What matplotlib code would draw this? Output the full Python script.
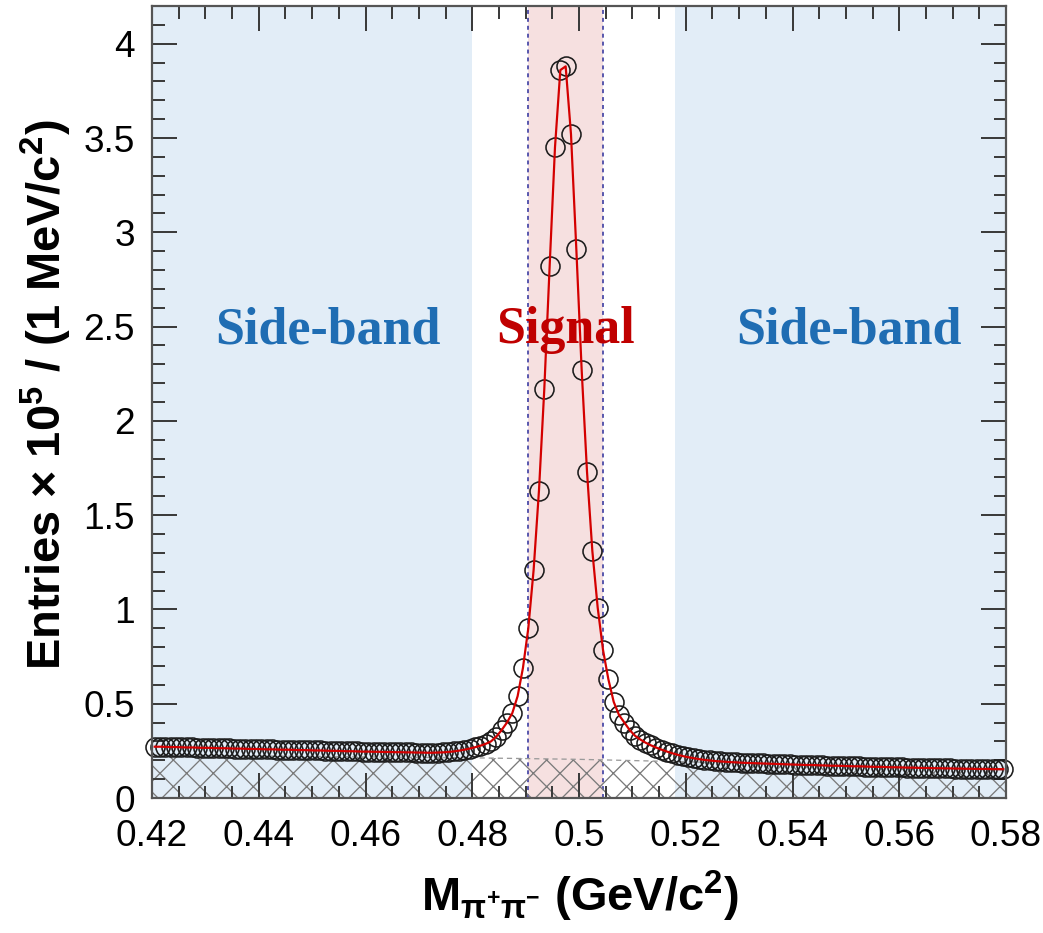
import numpy as np
import matplotlib
matplotlib.use("Agg")
import matplotlib.pyplot as plt
from matplotlib.ticker import MultipleLocator, FuncFormatter

# ---------------- data ----------------
bin_low = 0.420          # GeV/c^2
bin_width = 0.001        # 1 MeV/c^2
n_bins = 160

# entries per bin (x 10^5)
entries = [
    0.272, 0.272, 0.271, 0.270, 0.270, 0.269, 0.268, 0.268, 0.267, 0.266,
    0.266, 0.265, 0.264, 0.264, 0.263, 0.262, 0.262, 0.261, 0.260, 0.260,
    0.259, 0.258, 0.258, 0.257, 0.256, 0.256, 0.255, 0.254, 0.254, 0.253,
    0.252, 0.252, 0.251, 0.250, 0.250, 0.249, 0.248, 0.248, 0.247, 0.246,
    0.246, 0.245, 0.245, 0.244, 0.244, 0.243, 0.243, 0.242, 0.242, 0.241,
    0.241, 0.240, 0.240, 0.241, 0.242, 0.244, 0.247, 0.251, 0.256, 0.262,
    0.269, 0.277, 0.287, 0.300, 0.325, 0.36, 0.40, 0.45, 0.54, 0.69,
    0.90, 1.21, 1.63, 2.17, 2.82, 3.45, 3.86, 3.88, 3.52, 2.91,
    2.27, 1.73, 1.31, 1.01, 0.785, 0.63, 0.51, 0.44, 0.40, 0.36,
    0.33, 0.31, 0.293, 0.279, 0.267, 0.256, 0.246, 0.237, 0.229, 0.222,
    0.216, 0.211, 0.206, 0.202, 0.199, 0.196, 0.194, 0.192, 0.190, 0.189,
    0.187, 0.186, 0.185, 0.184, 0.183, 0.182, 0.181, 0.180, 0.179, 0.178,
    0.177, 0.176, 0.175, 0.175, 0.174, 0.173, 0.172, 0.171, 0.171, 0.170,
    0.169, 0.168, 0.168, 0.167, 0.166, 0.165, 0.165, 0.164, 0.163, 0.163,
    0.162, 0.161, 0.161, 0.160, 0.159, 0.159, 0.158, 0.158, 0.157, 0.157,
    0.156, 0.156, 0.155, 0.155, 0.154, 0.154, 0.154, 0.153, 0.153, 0.153,
]

# background (hatched) level
bkg_x = [0.42, 0.44, 0.46, 0.48, 0.50, 0.52, 0.54, 0.56, 0.58]
bkg_y = [0.228, 0.223, 0.218, 0.213, 0.205, 0.192, 0.178, 0.163, 0.148]

# regions
sideband_left = (0.420, 0.480)
sideband_right = (0.518, 0.580)
signal_window = (0.4905, 0.5045)

region_labels = ["Side-band", "Signal", "Side-band"]
region_label_x = [0.4530, 0.4975, 0.5505]
region_label_y = [2.48, 2.48, 2.48]
region_label_colors = ["#1f6db3", "#c00000", "#1f6db3"]

x_ticks = [0.42, 0.44, 0.46, 0.48, 0.50, 0.52, 0.54, 0.56, 0.58]
y_ticks = [0, 0.5, 1, 1.5, 2, 2.5, 3, 3.5, 4]

# ---------------- figure ----------------
DPI = 80
W, H = 1043, 933


def pt(px):
    return px * 72.0 / DPI


plt.rcParams["font.family"] = ["Liberation Sans", "DejaVu Sans"]
plt.rcParams["mathtext.default"] = "regular"
plt.rcParams["hatch.linewidth"] = pt(1.3)

fig = plt.figure(figsize=(W / DPI, H / DPI), dpi=DPI)
fig.patch.set_facecolor("white")
L, R, T, B = 152, 1006, 6, 798
ax = fig.add_axes([L / W, 1 - B / H, (R - L) / W, (B - T) / H])

x_centers = [bin_low + bin_width * (i + 0.5) for i in range(n_bins)]

ax.set_xlim(0.42, 0.58)
ax.set_ylim(0, 4.2)

# shaded regions
ax.axvspan(*sideband_left, color="#e2edf7", lw=0, zorder=0)
ax.axvspan(*sideband_right, color="#e2edf7", lw=0, zorder=0)
ax.axvspan(*signal_window, color="#f6e0e0", lw=0, zorder=0)
for xv in signal_window:
    ax.axvline(xv, color="#4a4aa8", lw=pt(1.8), ls=(0, (2.2, 2.2)), zorder=1)

# hatched background
ax.fill_between(bkg_x, 0, bkg_y, facecolor="none", edgecolor="#7a7a7a",
                hatch="x", lw=0, zorder=1.5)
ax.plot(bkg_x, bkg_y, color="#9a9a9a", lw=pt(1.3), ls=(0, (4, 3)), zorder=1.6)

# data points
ax.plot(x_centers, entries, ls="none", marker="o", ms=pt(19), mfc="none",
        mec="#1c1c1c", mew=pt(1.6), zorder=3, clip_on=False)
# fit curve
ax.plot(x_centers, entries, color="#d40000", lw=pt(2.2), zorder=4)

# region labels
for lab, xx, yy, cc in zip(region_labels, region_label_x, region_label_y,
                           region_label_colors):
    ax.text(xx, yy, lab, color=cc, ha="center", va="center",
            fontsize=pt(52), fontweight="bold",
            family=["Liberation Serif", "DejaVu Serif"], zorder=5)

# ticks
ax.set_xticks(x_ticks)
ax.set_yticks(y_ticks)
ax.xaxis.set_minor_locator(MultipleLocator(0.005))
ax.yaxis.set_minor_locator(MultipleLocator(0.1))
fmt = FuncFormatter(lambda v, p: "%g" % round(v, 4))
ax.xaxis.set_major_formatter(fmt)
ax.yaxis.set_major_formatter(fmt)
ax.tick_params(which="both", direction="in", top=True, right=True,
               color="#3c3c3c", width=pt(2.0))
ax.tick_params(which="major", length=pt(25), labelsize=pt(37))
ax.tick_params(which="minor", length=pt(12.5))
ax.tick_params(axis="y", which="major", pad=pt(17))
ax.tick_params(axis="x", which="major", pad=pt(21))

for sp in ax.spines.values():
    sp.set_linewidth(pt(2.2))
    sp.set_color("#555555")
    sp.set_zorder(6)

# axis labels
fig.text(46 / W, 1 - 395 / H, "Entries × 10$^{5}$ / (1 MeV/c$^{2}$)",
         rotation=90, ha="center", va="center", fontsize=pt(47),
         fontweight="bold")
fig.text(580 / W, 1 - 896 / H, r"M$_{\pi^{+}\pi^{-}}$ (GeV/c$^{2}$)",
         ha="center", va="center", fontsize=pt(47), fontweight="bold")

fig.savefig("out.png", dpi=DPI, facecolor="white")
